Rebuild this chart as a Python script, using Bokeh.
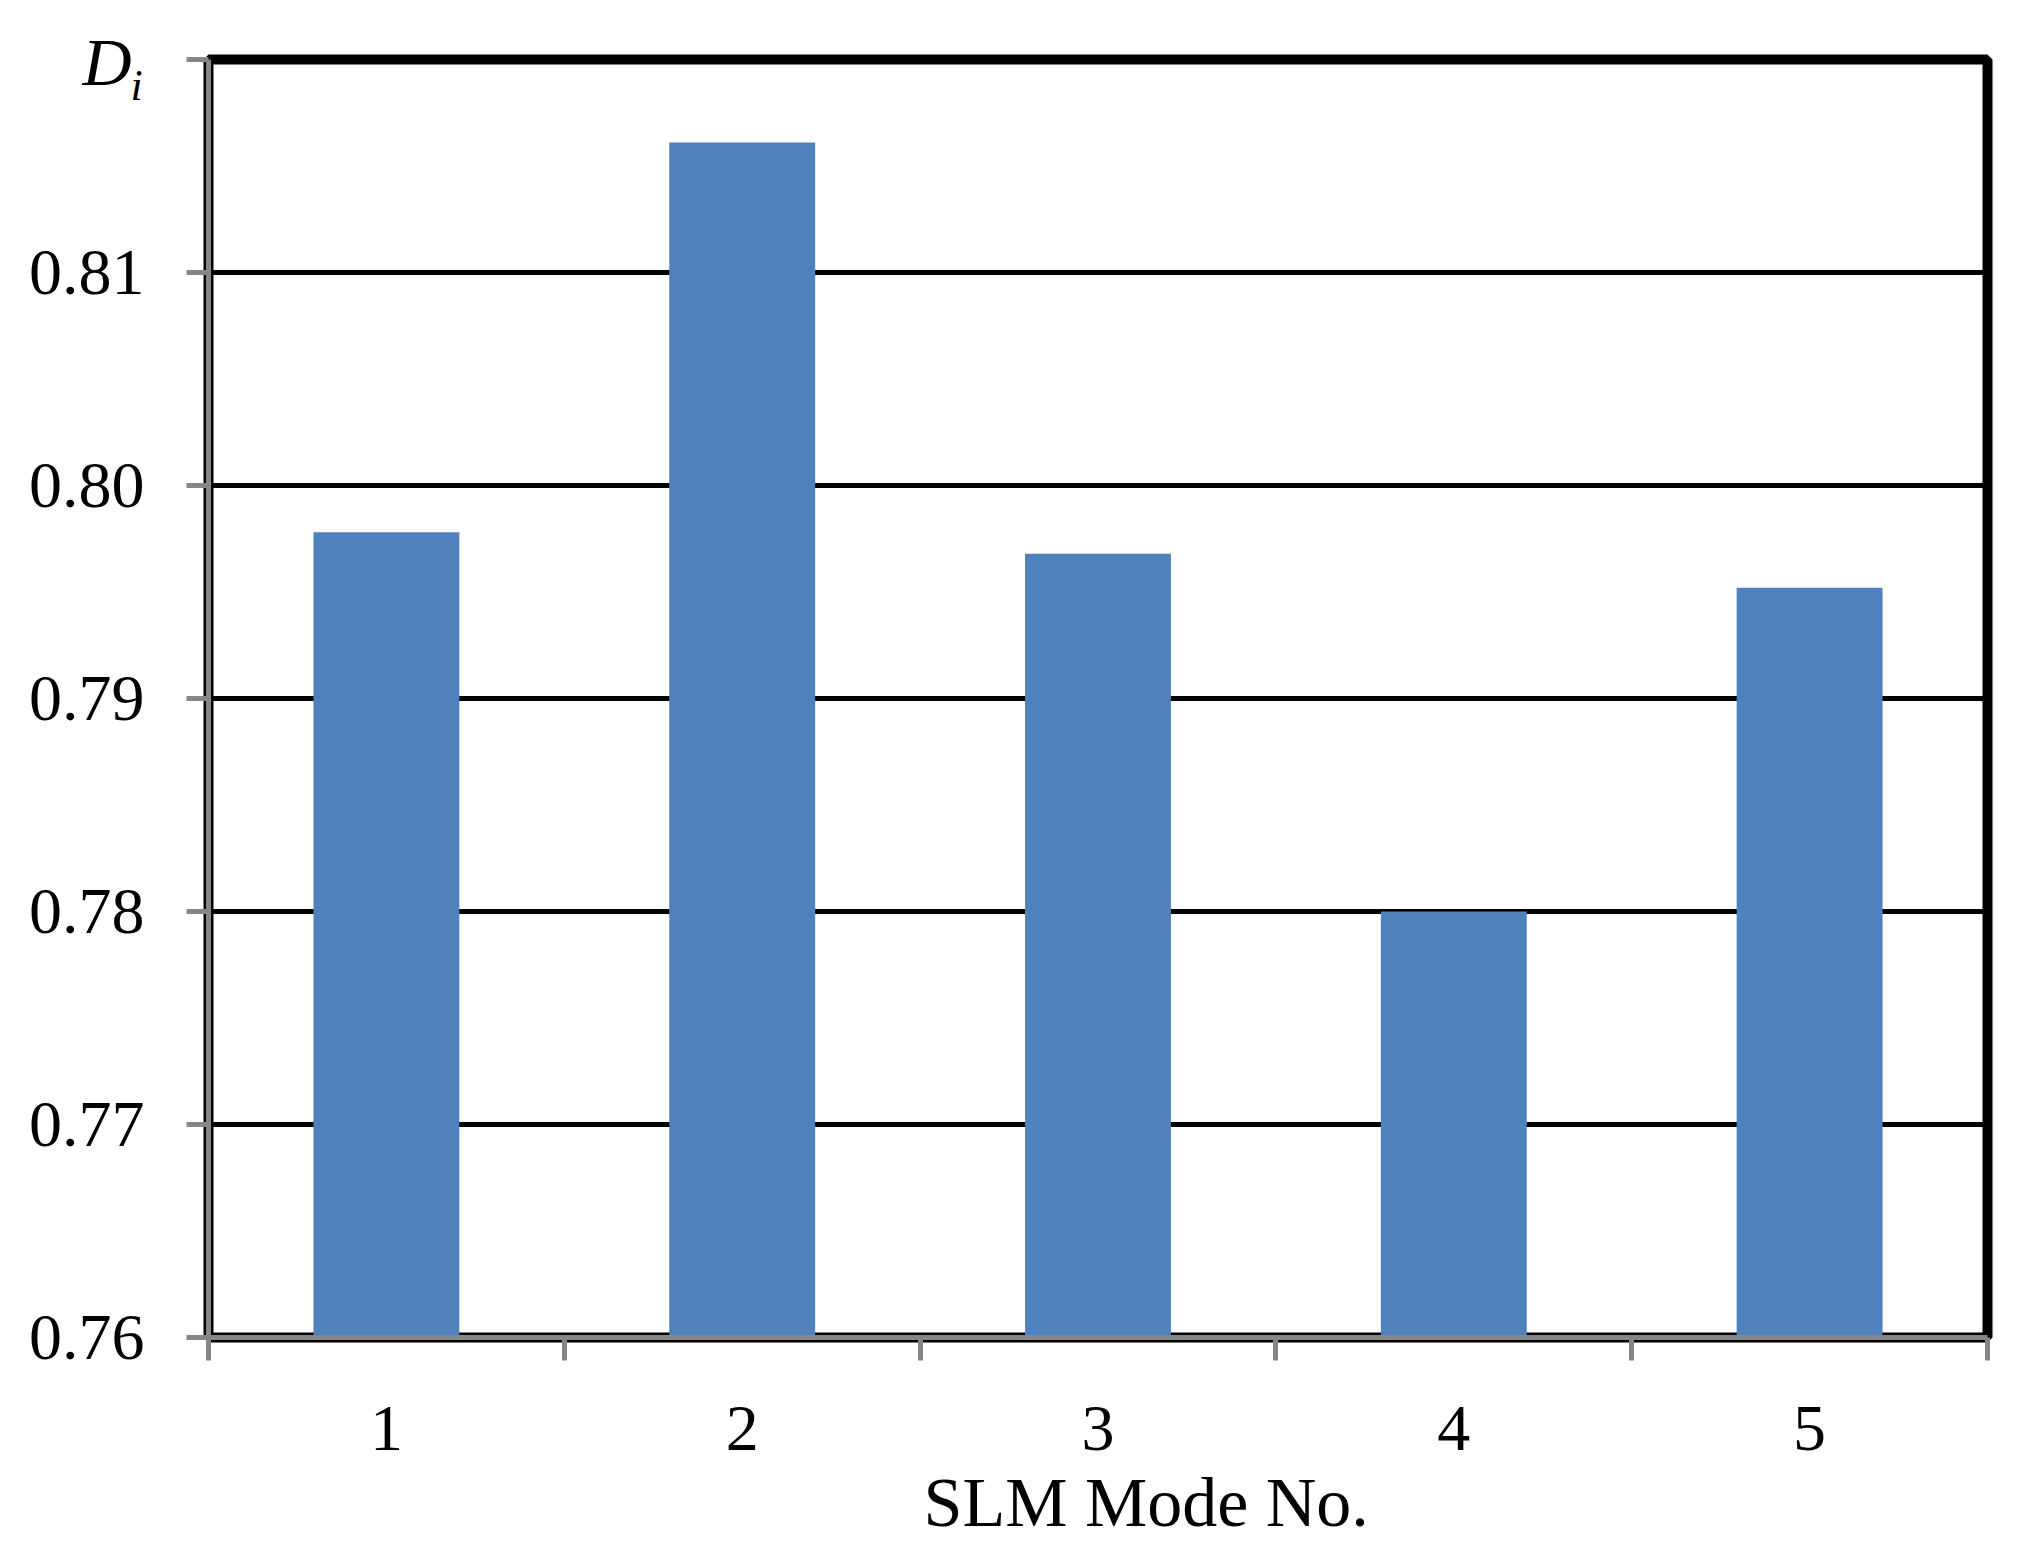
from bokeh.plotting import figure
from bokeh.models import Range1d, FixedTicker, Title
from bokeh.embed import file_html
from bokeh.resources import INLINE

# ---- data ----
modes = ["1", "2", "3", "4", "5"]
d_values = [0.7978, 0.8161, 0.7968, 0.7800, 0.7952]
y_ticks = [0.76, 0.77, 0.78, 0.79, 0.80, 0.81]
y_tick_labels = ["0.76", "0.77", "0.78", "0.79", "0.80", "0.81"]
y_min, y_max = 0.76, 0.82
x_title = "SLM Mode No."
y_title_main, y_title_sub = "D", "i"

BAR = "#4F81BD"
GRAY = "#868686"
FONT = "Liberation Serif"

positions = list(range(1, len(modes) + 1))
boundaries = [i + 0.5 for i in range(0, len(modes) + 1)]

W, H = 2025, 1560
p = figure(width=W, height=H, output_backend="svg", toolbar_location=None,
           x_range=Range1d(0.5, len(modes) + 0.5), y_range=Range1d(y_min, y_max),
           min_border_left=208, min_border_right=38, min_border_top=59,
           min_border_bottom=223)
p.background_fill_color = "white"
p.border_fill_color = "white"
p.outline_line_color = "black"
p.outline_line_width = 10

p.vbar(x=positions, top=d_values, bottom=y_min, width=0.41,
       fill_color=BAR, line_color=None)

# x axis: ticks at category boundaries, labels at centres
xa = p.xaxis[0]
xa.ticker = FixedTicker(ticks=positions, minor_ticks=boundaries)
xa.major_label_overrides = {pos: m for pos, m in zip(positions, modes)}
xa.major_tick_line_color = None
xa.major_tick_out = 0
xa.major_tick_in = 0
xa.minor_tick_line_color = GRAY
xa.minor_tick_line_width = 5
xa.minor_tick_out = 23
xa.minor_tick_in = 0
xa.axis_line_color = GRAY
xa.axis_line_width = 5
xa.major_label_text_font = FONT
xa.major_label_text_font_size = "66px"
xa.major_label_text_color = "black"
xa.major_label_standoff = 46

# y axis
ya = p.yaxis[0]
ya.ticker = FixedTicker(ticks=y_ticks, minor_ticks=[y_max])
ya.major_label_overrides = {t: s for t, s in zip(y_ticks, y_tick_labels)}
ya.major_tick_line_color = GRAY
ya.major_tick_line_width = 5
ya.major_tick_out = 22
ya.major_tick_in = 0
ya.minor_tick_line_color = GRAY
ya.minor_tick_line_width = 5
ya.minor_tick_out = 22
ya.minor_tick_in = 0
ya.axis_line_color = GRAY
ya.axis_line_width = 5
ya.major_label_text_font = FONT
ya.major_label_text_font_size = "66px"
ya.major_label_text_color = "black"
ya.major_label_standoff = 42

p.xgrid.grid_line_color = None
p.ygrid.ticker = FixedTicker(ticks=y_ticks)
p.ygrid.grid_line_color = "black"
p.ygrid.grid_line_width = 5

# y title D_i at the top-left corner (titles live in side panels, so not clipped)
p.title = Title(text=y_title_main, text_font=FONT, text_font_style="italic",
                text_font_size="68px", text_color="black", align="left",
                vertical_align="bottom", offset=-126, standoff=-80)
p.add_layout(Title(text=y_title_sub, text_font=FONT, text_font_style="italic",
                   text_font_size="44px", text_color="black", align="left",
                   vertical_align="bottom", offset=-78, standoff=-100), "above")

# x title
p.add_layout(Title(text=x_title, text_font=FONT, text_font_style="normal",
                   text_font_size="70px", text_color="black", align="left",
                   vertical_align="top", offset=715, standoff=22), "below")

open("out.html", "w").write(file_html(p, INLINE))
